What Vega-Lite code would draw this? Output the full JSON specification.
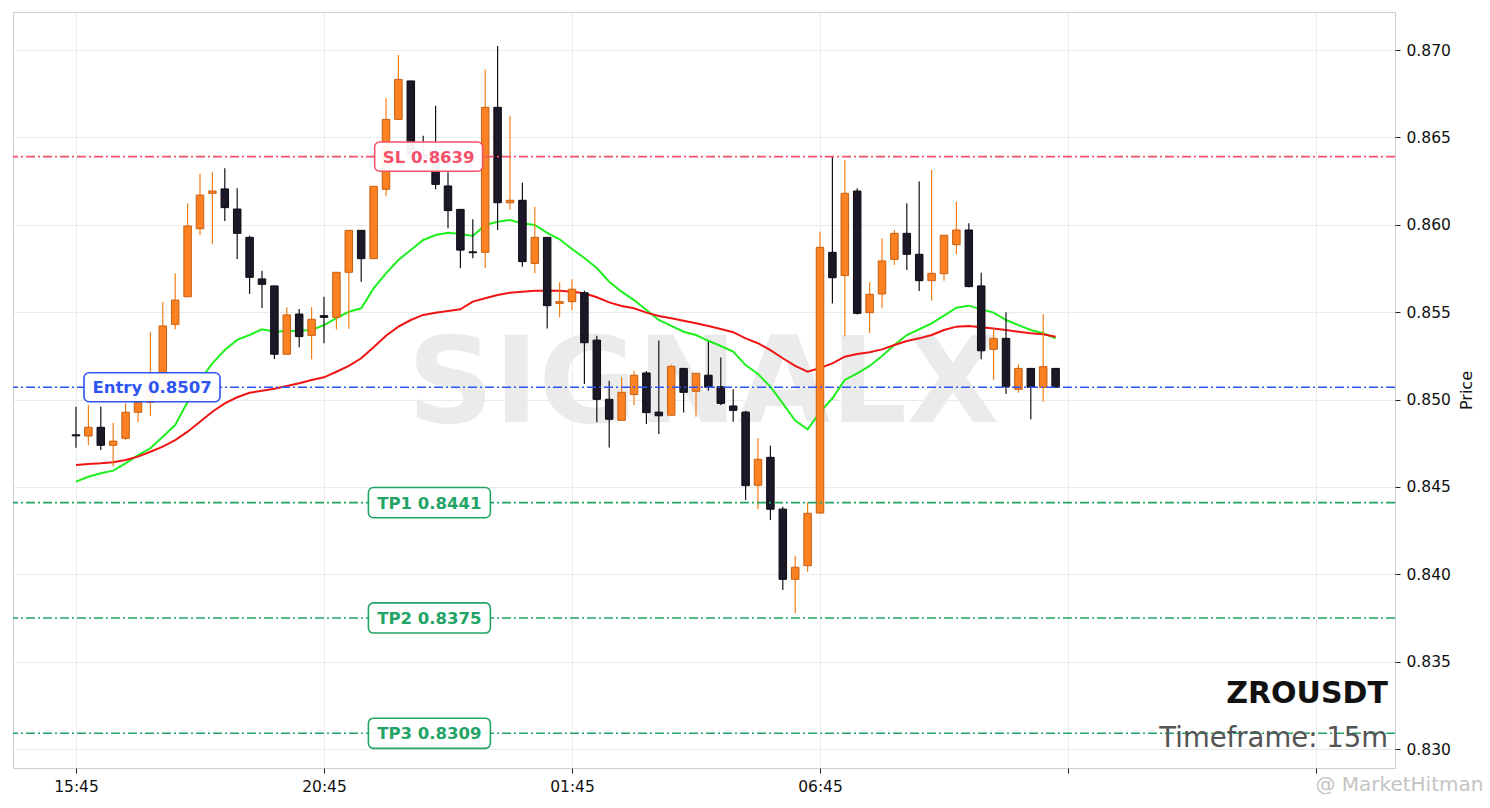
{
  "$schema": "https://vega.github.io/schema/vega-lite/v6.json",
  "width": 1382,
  "height": 756,
  "padding": {"left": 12, "top": 12, "right": 4, "bottom": 4},
  "background": "white",
  "config": {
    "font": "DejaVu Sans",
    "view": {"stroke": "#cfcfcf", "strokeWidth": 1},
    "axis": {
      "grid": true,
      "gridColor": "#e6e6e6",
      "gridWidth": 0.8,
      "domain": false,
      "tickColor": "#222",
      "tickSize": 5,
      "labelFontSize": 15.5,
      "labelColor": "#111",
      "labelFont": "DejaVu Sans"
    }
  },
  "datasets": {
    "candles": [
      {"i": 0, "open": 0.84798, "high": 0.84959, "low": 0.84724, "close": 0.84792},
      {"i": 1, "open": 0.84791, "high": 0.84969, "low": 0.8474, "close": 0.84841},
      {"i": 2, "open": 0.84841, "high": 0.84959, "low": 0.84711, "close": 0.84738},
      {"i": 3, "open": 0.84738, "high": 0.84867, "low": 0.84616, "close": 0.84762},
      {"i": 4, "open": 0.84778, "high": 0.84978, "low": 0.84768, "close": 0.84927},
      {"i": 5, "open": 0.84927, "high": 0.8505, "low": 0.8487, "close": 0.84984},
      {"i": 6, "open": 0.84984, "high": 0.85388, "low": 0.84907, "close": 0.8506},
      {"i": 7, "open": 0.8506, "high": 0.8556, "low": 0.8503, "close": 0.85421},
      {"i": 8, "open": 0.8543, "high": 0.85722, "low": 0.85402, "close": 0.85569},
      {"i": 9, "open": 0.85588, "high": 0.86123, "low": 0.85588, "close": 0.85993},
      {"i": 10, "open": 0.85977, "high": 0.8629, "low": 0.85941, "close": 0.8617},
      {"i": 11, "open": 0.8618, "high": 0.863, "low": 0.85888, "close": 0.86193},
      {"i": 12, "open": 0.86205, "high": 0.86323, "low": 0.86021, "close": 0.86098},
      {"i": 13, "open": 0.8609, "high": 0.86209, "low": 0.85804, "close": 0.85951},
      {"i": 14, "open": 0.85928, "high": 0.85937, "low": 0.85604, "close": 0.85699},
      {"i": 15, "open": 0.8569, "high": 0.85737, "low": 0.85524, "close": 0.85659},
      {"i": 16, "open": 0.8565, "high": 0.8565, "low": 0.85232, "close": 0.85259},
      {"i": 17, "open": 0.85259, "high": 0.85528, "low": 0.85259, "close": 0.85484},
      {"i": 18, "open": 0.85489, "high": 0.85518, "low": 0.85299, "close": 0.8536},
      {"i": 19, "open": 0.85367, "high": 0.85528, "low": 0.8523, "close": 0.85459},
      {"i": 20, "open": 0.8548, "high": 0.85588, "low": 0.85322, "close": 0.8547},
      {"i": 21, "open": 0.8547, "high": 0.85728, "low": 0.854, "close": 0.85728},
      {"i": 22, "open": 0.85728, "high": 0.85968, "low": 0.85405, "close": 0.85968},
      {"i": 23, "open": 0.85968, "high": 0.85968, "low": 0.85674, "close": 0.85806},
      {"i": 24, "open": 0.85806, "high": 0.8622, "low": 0.85806, "close": 0.8622},
      {"i": 25, "open": 0.86203, "high": 0.86724, "low": 0.86165, "close": 0.86603},
      {"i": 26, "open": 0.86603, "high": 0.86971, "low": 0.86603, "close": 0.86832},
      {"i": 27, "open": 0.86823, "high": 0.86823, "low": 0.8638, "close": 0.864},
      {"i": 28, "open": 0.864, "high": 0.8651, "low": 0.8633, "close": 0.8638},
      {"i": 29, "open": 0.8638, "high": 0.86681, "low": 0.86203, "close": 0.86231},
      {"i": 30, "open": 0.86222, "high": 0.863, "low": 0.8598, "close": 0.86081},
      {"i": 31, "open": 0.86088, "high": 0.86088, "low": 0.85751, "close": 0.85855},
      {"i": 32, "open": 0.85845, "high": 0.86031, "low": 0.85808, "close": 0.8584},
      {"i": 33, "open": 0.85842, "high": 0.86889, "low": 0.85751, "close": 0.86672},
      {"i": 34, "open": 0.86672, "high": 0.87023, "low": 0.8597, "close": 0.86126},
      {"i": 35, "open": 0.86126, "high": 0.86622, "low": 0.86088, "close": 0.8614},
      {"i": 36, "open": 0.8614, "high": 0.86241, "low": 0.8576, "close": 0.85789},
      {"i": 37, "open": 0.85779, "high": 0.86103, "low": 0.85722, "close": 0.85928},
      {"i": 38, "open": 0.85928, "high": 0.85928, "low": 0.85407, "close": 0.85537},
      {"i": 39, "open": 0.8555, "high": 0.85671, "low": 0.8547, "close": 0.8556},
      {"i": 40, "open": 0.8556, "high": 0.85688, "low": 0.85512, "close": 0.85631},
      {"i": 41, "open": 0.85611, "high": 0.85623, "low": 0.85089, "close": 0.85325},
      {"i": 42, "open": 0.8534, "high": 0.85365, "low": 0.8487, "close": 0.85001},
      {"i": 43, "open": 0.85001, "high": 0.85108, "low": 0.84726, "close": 0.84887},
      {"i": 44, "open": 0.84881, "high": 0.85127, "low": 0.84881, "close": 0.85041},
      {"i": 45, "open": 0.85028, "high": 0.85163, "low": 0.84969, "close": 0.85139},
      {"i": 46, "open": 0.85152, "high": 0.85163, "low": 0.8486, "close": 0.84925},
      {"i": 47, "open": 0.84928, "high": 0.85337, "low": 0.84803, "close": 0.84907},
      {"i": 48, "open": 0.8491, "high": 0.85201, "low": 0.8491, "close": 0.8519},
      {"i": 49, "open": 0.85178, "high": 0.85178, "low": 0.84925, "close": 0.85041},
      {"i": 50, "open": 0.85047, "high": 0.8515, "low": 0.84902, "close": 0.8515},
      {"i": 51, "open": 0.85139, "high": 0.85331, "low": 0.8505, "close": 0.8507},
      {"i": 52, "open": 0.85073, "high": 0.85241, "low": 0.84969, "close": 0.84978},
      {"i": 53, "open": 0.84963, "high": 0.85058, "low": 0.84873, "close": 0.84938},
      {"i": 54, "open": 0.84928, "high": 0.84936, "low": 0.84425, "close": 0.84507},
      {"i": 55, "open": 0.84509, "high": 0.84778, "low": 0.84372, "close": 0.84658},
      {"i": 56, "open": 0.84669, "high": 0.84736, "low": 0.8431, "close": 0.84372},
      {"i": 57, "open": 0.84373, "high": 0.84387, "low": 0.8391, "close": 0.83971},
      {"i": 58, "open": 0.83971, "high": 0.84106, "low": 0.83777, "close": 0.8404},
      {"i": 59, "open": 0.84049, "high": 0.84412, "low": 0.84015, "close": 0.84349},
      {"i": 60, "open": 0.8435, "high": 0.8596, "low": 0.8435, "close": 0.85871},
      {"i": 61, "open": 0.85842, "high": 0.86393, "low": 0.8555, "close": 0.85697},
      {"i": 62, "open": 0.85709, "high": 0.86371, "low": 0.8536, "close": 0.8618},
      {"i": 63, "open": 0.86193, "high": 0.86209, "low": 0.85487, "close": 0.85493},
      {"i": 64, "open": 0.85497, "high": 0.85671, "low": 0.85379, "close": 0.85602},
      {"i": 65, "open": 0.85604, "high": 0.85922, "low": 0.85522, "close": 0.85793},
      {"i": 66, "open": 0.85802, "high": 0.8597, "low": 0.8577, "close": 0.85951},
      {"i": 67, "open": 0.85951, "high": 0.86123, "low": 0.85741, "close": 0.85831},
      {"i": 68, "open": 0.85831, "high": 0.86247, "low": 0.85621, "close": 0.8568},
      {"i": 69, "open": 0.8568, "high": 0.86313, "low": 0.85565, "close": 0.85722},
      {"i": 70, "open": 0.8572, "high": 0.8594, "low": 0.8568, "close": 0.8594},
      {"i": 71, "open": 0.85886, "high": 0.86132, "low": 0.85831, "close": 0.8597},
      {"i": 72, "open": 0.8597, "high": 0.86008, "low": 0.85642, "close": 0.85646},
      {"i": 73, "open": 0.8565, "high": 0.85726, "low": 0.8523, "close": 0.85279},
      {"i": 74, "open": 0.85287, "high": 0.85407, "low": 0.85112, "close": 0.8535},
      {"i": 75, "open": 0.8535, "high": 0.85499, "low": 0.85031, "close": 0.85073},
      {"i": 76, "open": 0.85058, "high": 0.85201, "low": 0.85039, "close": 0.85178},
      {"i": 77, "open": 0.85178, "high": 0.85178, "low": 0.84887, "close": 0.8507},
      {"i": 78, "open": 0.8507, "high": 0.85489, "low": 0.84987, "close": 0.85188},
      {"i": 79, "open": 0.85178, "high": 0.85178, "low": 0.8507, "close": 0.8507}
    ],
    "ema": [
      {"i": 0, "fast": 0.8453, "slow": 0.84625},
      {"i": 1, "fast": 0.84558, "slow": 0.84631},
      {"i": 2, "fast": 0.84578, "slow": 0.84635},
      {"i": 3, "fast": 0.84593, "slow": 0.84641},
      {"i": 4, "fast": 0.84635, "slow": 0.84654},
      {"i": 5, "fast": 0.84682, "slow": 0.84673},
      {"i": 6, "fast": 0.84721, "slow": 0.84701},
      {"i": 7, "fast": 0.84787, "slow": 0.8473},
      {"i": 8, "fast": 0.84854, "slow": 0.84768},
      {"i": 9, "fast": 0.84987, "slow": 0.84816},
      {"i": 10, "fast": 0.85112, "slow": 0.84873},
      {"i": 11, "fast": 0.85207, "slow": 0.8493},
      {"i": 12, "fast": 0.85283, "slow": 0.84978},
      {"i": 13, "fast": 0.85341, "slow": 0.85013},
      {"i": 14, "fast": 0.85369, "slow": 0.85039},
      {"i": 15, "fast": 0.85402, "slow": 0.8505},
      {"i": 16, "fast": 0.85388, "slow": 0.85062},
      {"i": 17, "fast": 0.85392, "slow": 0.85077},
      {"i": 18, "fast": 0.85394, "slow": 0.85093},
      {"i": 19, "fast": 0.85398, "slow": 0.85112},
      {"i": 20, "fast": 0.85426, "slow": 0.85127},
      {"i": 21, "fast": 0.85465, "slow": 0.85159},
      {"i": 22, "fast": 0.85502, "slow": 0.85192},
      {"i": 23, "fast": 0.85522, "slow": 0.85236},
      {"i": 24, "fast": 0.85636, "slow": 0.85299},
      {"i": 25, "fast": 0.85722, "slow": 0.85365},
      {"i": 26, "fast": 0.85798, "slow": 0.85417},
      {"i": 27, "fast": 0.85856, "slow": 0.85455},
      {"i": 28, "fast": 0.85913, "slow": 0.85484},
      {"i": 29, "fast": 0.85941, "slow": 0.85497},
      {"i": 30, "fast": 0.85954, "slow": 0.85506},
      {"i": 31, "fast": 0.85947, "slow": 0.85516},
      {"i": 32, "fast": 0.85936, "slow": 0.8556},
      {"i": 33, "fast": 0.85999, "slow": 0.85579},
      {"i": 34, "fast": 0.86017, "slow": 0.85598},
      {"i": 35, "fast": 0.86027, "slow": 0.85611},
      {"i": 36, "fast": 0.86008, "slow": 0.85617},
      {"i": 37, "fast": 0.85999, "slow": 0.85623},
      {"i": 38, "fast": 0.85954, "slow": 0.85623},
      {"i": 39, "fast": 0.85917, "slow": 0.85623},
      {"i": 40, "fast": 0.85861, "slow": 0.85617},
      {"i": 41, "fast": 0.8581, "slow": 0.85608},
      {"i": 42, "fast": 0.85752, "slow": 0.85585},
      {"i": 43, "fast": 0.85674, "slow": 0.85556},
      {"i": 44, "fast": 0.85617, "slow": 0.85535},
      {"i": 45, "fast": 0.85569, "slow": 0.85522},
      {"i": 46, "fast": 0.85512, "slow": 0.85497},
      {"i": 47, "fast": 0.85455, "slow": 0.85478},
      {"i": 48, "fast": 0.85421, "slow": 0.85465},
      {"i": 49, "fast": 0.85388, "slow": 0.85451},
      {"i": 50, "fast": 0.85369, "slow": 0.85436},
      {"i": 51, "fast": 0.85336, "slow": 0.85421},
      {"i": 52, "fast": 0.85306, "slow": 0.85403},
      {"i": 53, "fast": 0.85274, "slow": 0.85385},
      {"i": 54, "fast": 0.85197, "slow": 0.8535},
      {"i": 55, "fast": 0.85146, "slow": 0.85322},
      {"i": 56, "fast": 0.85073, "slow": 0.85283},
      {"i": 57, "fast": 0.84978, "slow": 0.85236},
      {"i": 58, "fast": 0.84879, "slow": 0.85192},
      {"i": 59, "fast": 0.84829, "slow": 0.85159},
      {"i": 60, "fast": 0.84928, "slow": 0.8518},
      {"i": 61, "fast": 0.85007, "slow": 0.85207},
      {"i": 62, "fast": 0.85112, "slow": 0.85245},
      {"i": 63, "fast": 0.8515, "slow": 0.8526},
      {"i": 64, "fast": 0.85192, "slow": 0.8527},
      {"i": 65, "fast": 0.85249, "slow": 0.85287},
      {"i": 66, "fast": 0.85312, "slow": 0.85312},
      {"i": 67, "fast": 0.85369, "slow": 0.85335},
      {"i": 68, "fast": 0.85402, "slow": 0.8535},
      {"i": 69, "fast": 0.85436, "slow": 0.85369},
      {"i": 70, "fast": 0.8548, "slow": 0.85398},
      {"i": 71, "fast": 0.85525, "slow": 0.85417},
      {"i": 72, "fast": 0.85537, "slow": 0.85421},
      {"i": 73, "fast": 0.85516, "slow": 0.85413},
      {"i": 74, "fast": 0.85497, "slow": 0.85407},
      {"i": 75, "fast": 0.85455, "slow": 0.85398},
      {"i": 76, "fast": 0.85426, "slow": 0.85388},
      {"i": 77, "fast": 0.85398, "slow": 0.85379},
      {"i": 78, "fast": 0.85379, "slow": 0.85373},
      {"i": 79, "fast": 0.8535, "slow": 0.85359}
    ],
    "levels": [
      {"kind": "SL", "level": 0.8639, "label": "SL 0.8639", "at": 28.44},
      {"kind": "Entry", "level": 0.8507, "label": "Entry 0.8507", "at": 6.13},
      {"kind": "TP", "level": 0.8441, "label": "TP1 0.8441", "at": 28.5},
      {"kind": "TP", "level": 0.8375, "label": "TP2 0.8375", "at": 28.5},
      {"kind": "TP", "level": 0.8309, "label": "TP3 0.8309", "at": 28.5}
    ],
    "notes": [
      {"text": "SIGNALX", "x": 50.6, "y": 0.84873, "role": "mark"},
      {"text": "ZROUSDT", "x": 105.8, "y": 0.83262, "role": "symbol"},
      {"text": "Timeframe: 15m", "x": 105.8, "y": 0.83013, "role": "tf"},
      {"text": "@ MarketHitman", "x": 113.5, "y": 0.82761, "role": "credit"}
    ]
  },
  "encoding": {
    "x": {
      "field": "i",
      "type": "quantitative",
      "scale": {"domain": [-5.08, 106.37], "nice": false, "zero": false, "padding": 0},
      "axis": {
        "title": null,
        "values": [0, 20, 40, 60, 80, 100],
        "labelExpr": "datum.value == 0 ? '15:45' : datum.value == 20 ? '20:45' : datum.value == 40 ? '01:45' : datum.value == 60 ? '06:45' : ''",
        "labelPadding": 6
      }
    }
  },
  "layer": [
    {
      "data": {"name": "notes"},
      "transform": [{"filter": "datum.role == 'mark'"}],
      "mark": {"type": "text", "font": "DejaVu Sans", "fontWeight": "bold", "fontSize": 120, "color": "#ebebeb", "align": "center", "baseline": "alphabetic"},
      "encoding": {
        "x": {"field": "x", "type": "quantitative"},
        "y": {"field": "y", "type": "quantitative"},
        "text": {"field": "text"}
      }
    },
    {
      "data": {"name": "ema"},
      "mark": {"type": "line", "color": "#1ef01e", "strokeWidth": 2},
      "encoding": {
        "y": {
          "field": "fast",
          "type": "quantitative",
          "scale": {"domain": [0.828913, 0.872175], "nice": false, "zero": false, "padding": 0},
          "axis": {
            "orient": "right",
            "title": "Price",
            "titleFontSize": 16,
            "titleFontWeight": "normal",
            "titleColor": "#111",
            "titleAngle": 270,
            "titleBaseline": "top",
            "titlePadding": 8,
            "values": [0.83, 0.835, 0.84, 0.845, 0.85, 0.855, 0.86, 0.865, 0.87],
            "format": ".3f",
            "labelPadding": 6
          }
        }
      }
    },
    {
      "data": {"name": "ema"},
      "mark": {"type": "line", "color": "#f01414", "strokeWidth": 2},
      "encoding": {"y": {"field": "slow", "type": "quantitative"}}
    },
    {
      "data": {"name": "candles"},
      "mark": {"type": "rule", "strokeWidth": 1.2},
      "encoding": {
        "y": {"field": "low", "type": "quantitative"},
        "y2": {"field": "high"},
        "color": {"condition": {"test": "datum.close >= datum.open", "value": "#f57d16"}, "value": "#15111c"}
      }
    },
    {
      "data": {"name": "candles"},
      "mark": {"type": "bar", "width": 7.5, "strokeWidth": 1},
      "encoding": {
        "y": {"field": "open", "type": "quantitative"},
        "y2": {"field": "close"},
        "fill": {"condition": {"test": "datum.close >= datum.open", "value": "#fb8122"}, "value": "#1d1828"},
        "stroke": {"condition": {"test": "datum.close >= datum.open", "value": "#c8600f"}, "value": "#0d0a12"}
      }
    },
    {
      "data": {"name": "levels"},
      "mark": {"type": "rule", "strokeWidth": 1.6, "strokeDash": [9, 3, 2, 3]},
      "encoding": {
        "x": null,
        "y": {"field": "level", "type": "quantitative"},
        "color": {
          "field": "kind",
          "type": "nominal",
          "scale": {"domain": ["SL", "Entry", "TP"], "range": ["#f4506a", "#2e55f2", "#22a466"]},
          "legend": null
        }
      }
    },
    {
      "data": {"name": "levels"},
      "mark": {"type": "point", "filled": false, "fill": "white", "fillOpacity": 0.95, "strokeWidth": 1.6, "size": 18496, "opacity": 1},
      "encoding": {
        "x": {"field": "at", "type": "quantitative"},
        "y": {"field": "level", "type": "quantitative"},
        "shape": {
          "field": "kind",
          "type": "nominal",
          "scale": {
            "domain": ["SL", "Entry", "TP"],
            "range": [
              "M-0.72,-0.215 L0.72,-0.215 A0.074,0.074 0 0 1 0.794,-0.141 L0.794,0.141 A0.074,0.074 0 0 1 0.72,0.215 L-0.72,0.215 A0.074,0.074 0 0 1 -0.794,0.141 L-0.794,-0.141 A0.074,0.074 0 0 1 -0.72,-0.215 Z",
              "M-0.926,-0.213 L0.926,-0.213 A0.074,0.074 0 0 1 1,-0.139 L1,0.139 A0.074,0.074 0 0 1 0.926,0.213 L-0.926,0.213 A0.074,0.074 0 0 1 -1,0.139 L-1,-0.139 A0.074,0.074 0 0 1 -0.926,-0.213 Z",
              "M-0.823,-0.222 L0.823,-0.222 A0.074,0.074 0 0 1 0.897,-0.148 L0.897,0.148 A0.074,0.074 0 0 1 0.823,0.222 L-0.823,0.222 A0.074,0.074 0 0 1 -0.897,0.148 L-0.897,-0.148 A0.074,0.074 0 0 1 -0.823,-0.222 Z"
            ]
          },
          "legend": null
        },
        "stroke": {"field": "kind", "type": "nominal", "scale": {"domain": ["SL", "Entry", "TP"], "range": ["#f4506a", "#2e55f2", "#22a466"]}, "legend": null}
      }
    },
    {
      "data": {"name": "levels"},
      "mark": {"type": "text", "fontWeight": "bold", "fontSize": 16.5, "align": "center", "baseline": "middle", "dy": 1},
      "encoding": {
        "x": {"field": "at", "type": "quantitative"},
        "y": {"field": "level", "type": "quantitative"},
        "text": {"field": "label"},
        "color": {"field": "kind", "type": "nominal", "scale": {"domain": ["SL", "Entry", "TP"], "range": ["#f4506a", "#2e55f2", "#22a466"]}, "legend": null}
      }
    },
    {
      "data": {"name": "notes"},
      "transform": [{"filter": "datum.role == 'symbol'"}],
      "mark": {"type": "text", "fontWeight": "bold", "fontSize": 30, "color": "#111111", "align": "right", "baseline": "alphabetic"},
      "encoding": {
        "x": {"field": "x", "type": "quantitative"},
        "y": {"field": "y", "type": "quantitative"},
        "text": {"field": "text"}
      }
    },
    {
      "data": {"name": "notes"},
      "transform": [{"filter": "datum.role == 'tf'"}],
      "mark": {"type": "text", "fontSize": 27.5, "color": "#555555", "align": "right", "baseline": "alphabetic"},
      "encoding": {
        "x": {"field": "x", "type": "quantitative"},
        "y": {"field": "y", "type": "quantitative"},
        "text": {"field": "text"}
      }
    },
    {
      "data": {"name": "notes"},
      "transform": [{"filter": "datum.role == 'credit'"}],
      "mark": {"type": "text", "fontSize": 20, "color": "#c4c4c4", "align": "right", "baseline": "alphabetic"},
      "encoding": {
        "x": {"field": "x", "type": "quantitative"},
        "y": {"field": "y", "type": "quantitative"},
        "text": {"field": "text"}
      }
    }
  ]
}
